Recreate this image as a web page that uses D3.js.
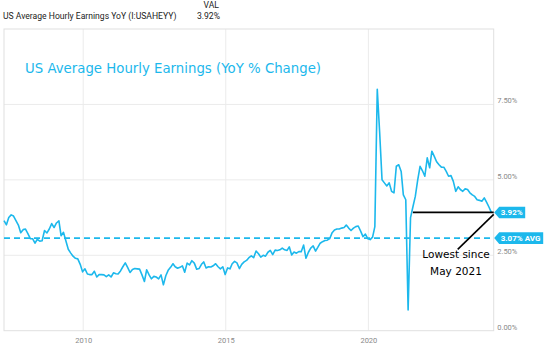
<!DOCTYPE html>
<html>
<head>
<meta charset="utf-8">
<script src="https://cdn.jsdelivr.net/npm/d3@7"></script>
<style>
  body { margin: 0; background: #fff; }
  svg { display: block; }
</style>
</head>
<body>
<svg id="chart" width="554" height="353"></svg>
<script>
// monthly YoY % change, first value is March 2007
var startYear = 2007, startMonth = 2;
var values2007 = [3.65, 3.51, 3.75, 3.84, 3.80, 3.65, 3.50, 3.25, 3.35, 3.37];
var values2008 = [3.22, 3.05, 3.05, 2.90, 3.03, 2.97, 2.98, 3.32, 3.24, 3.37, 3.55, 3.42];
var values2009 = [3.57, 3.64, 3.15, 3.26, 2.98, 2.70, 2.58, 2.47, 2.40, 2.38, 2.20, 1.95];
var values2010 = [2.05, 1.88, 1.86, 1.86, 1.97, 1.78, 1.86, 1.86, 1.85, 1.79, 1.85, 1.78];
var values2011 = [1.92, 1.89, 1.88, 1.98, 2.12, 2.25, 2.10, 1.93, 2.03, 2.06, 2.05, 2.04];
var values2012 = [1.85, 1.63, 2.02, 1.85, 1.72, 1.80, 1.78, 1.72, 1.85, 1.52, 1.82, 2.00];
var values2013 = [2.10, 2.22, 2.12, 2.07, 2.10, 2.15, 1.94, 2.24, 2.18, 2.32, 2.24, 2.04];
var values2014 = [2.06, 2.20, 2.28, 2.08, 2.12, 2.11, 2.15, 2.22, 2.12, 2.05, 2.12, 1.86];
var values2015 = [2.08, 2.05, 2.22, 2.30, 2.25, 2.06, 2.20, 2.28, 2.33, 2.42, 2.48, 2.42];
var values2016 = [2.64, 2.55, 2.44, 2.50, 2.47, 2.60, 2.66, 2.52, 2.67, 2.66, 2.68, 2.74];
var values2017 = [2.68, 2.66, 2.78, 2.51, 2.61, 2.57, 2.62, 2.62, 2.84, 2.40, 2.60, 2.74];
var values2018 = [2.81, 2.64, 2.76, 2.90, 2.95, 2.99, 3.00, 3.05, 3.25, 3.34, 3.37, 3.37];
var values2019 = [3.40, 3.42, 3.50, 3.40, 3.32, 3.40, 3.45, 3.47, 3.30, 3.12, 3.20, 3.05];
var values2020 = [3.02, 3.10, 3.45, 8.00, 6.60, 5.00, 4.90, 4.80, 4.90, 4.62, 4.57, 5.45];
var values2021 = [5.50, 5.28, 4.50, 4.34, 0.69, 3.75, 4.10, 4.45, 5.00, 5.45, 5.30, 5.12];
var values2022 = [5.73, 5.40, 5.95, 5.78, 5.60, 5.50, 5.42, 5.42, 5.28, 5.12, 5.14, 4.95];
var values2023 = [4.62, 4.77, 4.68, 4.62, 4.70, 4.68, 4.57, 4.50, 4.45, 4.34, 4.32, 4.29];
var values2024 = [4.40, 4.25, 4.10, 3.92];

var xTickYears = [2010, 2015, 2020];
var yTicks = [0, 2.5, 5, 7.5];
var avgValue = 3.07;
var lastValue = 3.92;
var lowestSinceIndex = 172;   // month index where the "lowest since" line begins

var headerName = "US Average Hourly Earnings YoY (I:USAHEYY)";
var titleText = "US Average Hourly Earnings (YoY % Change)";
var noteLines = ["Lowest since", "May 2021"];

var allValues = [].concat(values2007, values2008, values2009, values2010, values2011,
  values2012, values2013, values2014, values2015, values2016, values2017, values2018,
  values2019, values2020, values2021, values2022, values2023, values2024);

var data = allValues.map(function (v, i) {
  return { date: new Date(startYear, startMonth + i, 24), value: v };
});

var blue = "#1cb8ec";
var svg = d3.select("#chart");

var plotLeft = 4, plotRight = 493.7, plotTop = 29, plotBottom = 330.7;

var x = d3.scaleTime()
  .domain([new Date(2007, 2, 24), new Date(2024, 4, 24)])
  .range([plotLeft, plotRight]);
var y = d3.scaleLinear().domain([0, 10]).range([plotBottom, plotTop]);

// header
svg.append("text").attr("x", 3).attr("y", 19)
  .style("font-family", "Roboto").style("font-size", "8.6px").style("fill", "#222")
  .text(headerName);
svg.append("text").attr("x", 219).attr("y", 8).attr("text-anchor", "end")
  .style("font-family", "Roboto").style("font-size", "8.6px").style("fill", "#222")
  .text("VAL");
svg.append("text").attr("x", 220).attr("y", 19).attr("text-anchor", "end")
  .style("font-family", "Roboto").style("font-size", "8.6px").style("fill", "#222")
  .text(lastValue.toFixed(2) + "%");

// grid
svg.selectAll(".vgrid").data(xTickYears).enter().append("line")
  .attr("x1", function (d) { return x(new Date(d, 0, 1)); })
  .attr("x2", function (d) { return x(new Date(d, 0, 1)); })
  .attr("y1", plotTop).attr("y2", plotBottom)
  .style("stroke", "#ebebeb").style("stroke-width", 1);
svg.selectAll(".hgrid").data(yTicks.filter(function (d) { return d > 0; })).enter().append("line")
  .attr("x1", plotLeft).attr("x2", plotRight)
  .attr("y1", function (d) { return y(d); })
  .attr("y2", function (d) { return y(d); })
  .style("stroke", "#ebebeb").style("stroke-width", 1);

// frame
svg.append("rect")
  .attr("x", plotLeft).attr("y", plotTop)
  .attr("width", plotRight - plotLeft).attr("height", plotBottom - plotTop)
  .style("fill", "none").style("stroke", "#e0e0e0").style("stroke-width", 1);

// axes
var yAxis = svg.append("g")
  .attr("transform", "translate(" + plotRight + ",0)")
  .call(d3.axisRight(y).tickValues(yTicks).tickSize(0)
    .tickFormat(function (d) { return d.toFixed(2) + "%"; }));
yAxis.select(".domain").remove();
yAxis.selectAll("text")
  .attr("x", 3.5).attr("dy", "-1.5")
  .style("font-family", "Roboto").style("font-size", "7.5px").style("fill", "#8a8a8a");

var xAxis = svg.append("g")
  .attr("transform", "translate(0," + plotBottom + ")")
  .call(d3.axisBottom(x)
    .tickValues(xTickYears.map(function (d) { return new Date(d, 0, 1); }))
    .tickSize(0).tickFormat(d3.timeFormat("%Y")));
xAxis.select(".domain").remove();
xAxis.selectAll("text")
  .attr("y", 12).attr("dy", 0)
  .style("font-family", "Roboto").style("font-size", "7.5px").style("fill", "#8a8a8a");

// average dashed line
svg.append("line")
  .attr("x1", plotLeft).attr("x2", plotRight)
  .attr("y1", y(avgValue)).attr("y2", y(avgValue))
  .style("stroke", blue).style("stroke-width", 1.8)
  .style("stroke-dasharray", "6,4");

// series
var line = d3.line()
  .x(function (d) { return x(d.date); })
  .y(function (d) { return y(d.value); });

svg.append("path").datum(data)
  .attr("d", line)
  .style("fill", "none").style("stroke", blue).style("stroke-width", 1.6)
  .style("stroke-linejoin", "round");

// title
svg.append("text").attr("x", 25).attr("y", 73)
  .attr("textLength", 296).attr("lengthAdjust", "spacingAndGlyphs")
  .style("font-family", "'DejaVu Sans'").style("font-size", "14px").style("fill", blue)
  .text(titleText);

// "lowest since" annotation
svg.append("line")
  .attr("x1", x(data[lowestSinceIndex].date)).attr("x2", plotRight)
  .attr("y1", y(lastValue)).attr("y2", y(lastValue))
  .style("stroke", "#000").style("stroke-width", 1.8);
svg.append("line")
  .attr("x1", plotRight).attr("y1", y(lastValue) + 2)
  .attr("x2", plotRight - 36).attr("y2", y(lastValue) + 37)
  .style("stroke", "#000").style("stroke-width", 1.6);
svg.selectAll(".note").data(noteLines).enter().append("text")
  .attr("x", 456).attr("y", function (d, i) { return 258 + i * 17; })
  .attr("text-anchor", "middle")
  .style("font-family", "'DejaVu Sans'").style("font-size", "10.5px").style("fill", "#000")
  .text(function (d) { return d; });

// value badges on the right axis
function badge(v, label, w) {
  var cy = y(v);
  svg.append("path")
    .attr("d", "M" + (plotRight + 0.5) + "," + cy +
      "L" + (plotRight + 5.5) + "," + (cy - 5.8) +
      "L" + (plotRight + 5.5 + w) + "," + (cy - 5.8) +
      "L" + (plotRight + 5.5 + w) + "," + (cy + 5.8) +
      "L" + (plotRight + 5.5) + "," + (cy + 5.8) + "Z")
    .style("fill", blue);
  svg.append("text")
    .attr("x", plotRight + 7).attr("y", cy + 2.8)
    .style("font-family", "Roboto").style("font-size", "8px")
    .style("font-weight", "bold").style("fill", "#fff")
    .text(label);
}
badge(lastValue, lastValue.toFixed(2) + "%", 26);
badge(avgValue, avgValue.toFixed(2) + "% AVG", 44);
</script>
</body>
</html>
